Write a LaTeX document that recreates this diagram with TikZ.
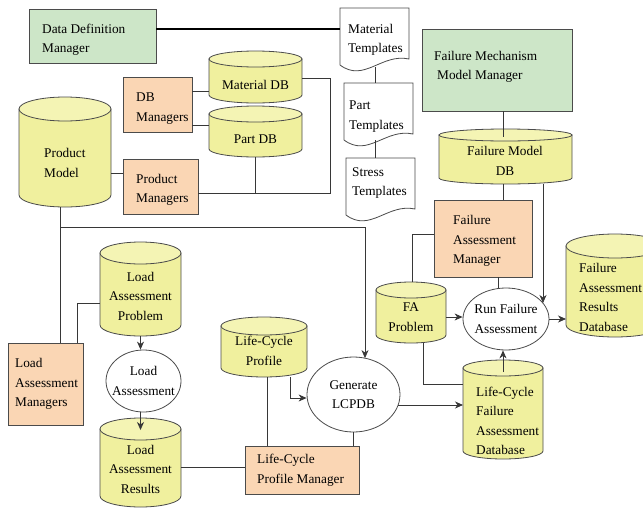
\documentclass[tikz,border=0pt]{standalone}
\usepackage{fontspec}
\setmainfont{Liberation Serif}
\usetikzlibrary{arrows.meta,shapes.geometric,calc}
\definecolor{gfill}{RGB}{205,230,200}
\definecolor{ofill}{RGB}{250,214,180}
\definecolor{yfill}{RGB}{240,240,158}
\definecolor{ytop}{RGB}{244,244,180}
\definecolor{edge}{RGB}{75,75,75}
\definecolor{lnc}{RGB}{55,55,55}
\newcommand\fs{\fontsize{13.3}{19.5}\selectfont}
\tikzset{
  ghost/.style={draw=none, inner sep=0pt, outer sep=0pt, rectangle},
  gbox/.style={draw=edge, fill=gfill, inner sep=0pt, outer sep=0pt, anchor=north west, line width=0.8pt},
  obox/.style={draw=edge, fill=ofill, inner sep=0pt, outer sep=0pt, anchor=north west, line width=0.8pt},
  txt/.style={font=\fs, inner sep=0pt, align=left, anchor=west},
  ctxt/.style={font=\fs, inner sep=0pt, align=center},
  cyl/.style={draw=edge, fill=yfill, line width=0.8pt},
  cyltop/.style={draw=edge, fill=ytop, line width=0.8pt},
  docshape/.style={draw=edge, fill=white, line width=0.8pt},
  ell/.style={ellipse, draw=edge, fill=white, line width=0.8pt, inner sep=0pt},
  ln/.style={draw=lnc, line width=0.8pt},
  arr/.style={ln, -{Stealth[length=8pt,width=7pt,inset=2.5pt]}},
}
% cylinder: name, x0, y0, x1, y1, ry
\newcommand\Cyl[6]{%
  \pgfmathsetmacro\cyCX{(#2+#4)/2}%
  \pgfmathsetmacro\cyRX{(#4-#2)/2}%
  \pgfmathsetmacro\cyKX{0.5523*\cyRX}%
  \pgfmathsetmacro\cyKY{0.5523*#6}%
  \pgfmathsetmacro\cyTA{#3+#6}%
  \pgfmathsetmacro\cyBA{#5-#6}%
  \pgfmathsetmacro\cyBB{\cyBA+\cyKY}%
  \draw[cyl] (#2,\cyTA) -- (#2,\cyBA) .. controls (#2,\cyBB) and (\cyCX-\cyKX,#5) .. (\cyCX,#5) .. controls (\cyCX+\cyKX,#5) and (#4,\cyBB) .. (#4,\cyBA) -- (#4,\cyTA) -- cycle;
  \draw[cyltop] (\cyCX,\cyTA) ellipse [x radius=\cyRX, y radius=#6];
  \path (\cyCX,{(#3+#5)/2}) node[ghost, minimum width={(#4-#2)*1pt}, minimum height={(#5-#3)*1pt}] (#1) {};%
}
% document: name, x0, y0, x1, yb
\newcommand\Doc[5]{%
  \pgfmathsetmacro\dcW{#4-#2}%
  \draw[docshape] (#2,#3) -- (#4,#3) -- (#4,#5-6) .. controls (#2+0.6*\dcW,#5-12) and (#2+0.35*\dcW,#5+18) .. (#2,#5) -- cycle;
  \path ({(#2+#4)/2},{(#3+#5)/2}) node[ghost, minimum width={(#4-#2)*1pt}, minimum height={(#5-#3)*1pt}] (#1) {};%
}
\begin{document}
\begin{tikzpicture}[x=1pt,y=-1pt]
\clip (0,0) rectangle (643,509);
\fill[white] (0,0) rectangle (643,509);

% boxes
\node[gbox, minimum width=127pt, minimum height=54pt] (ddm) at (29,9) {};
\node[txt] (ddmT) at (42,40) {Data Definition\\Manager};
\node[obox, minimum width=69pt, minimum height=55pt] (dbm) at (123,77) {};
\node[txt] (dbmT) at (136,108.5) {DB\\Managers};
\node[obox, minimum width=75pt, minimum height=55pt] (pm) at (123,159) {};
\node[txt] (pmT) at (136,190) {Product\\Managers};
\node[obox, minimum width=75pt, minimum height=82pt] (lam) at (8,343) {};
\node[txt] (lamT) at (15,384) {Load\\Assessment\\Managers};
\node[obox, minimum width=114pt, minimum height=48pt] (lcpm) at (245,446) {};
\node[txt] (lcpmT) at (257,470) {Life-Cycle\\Profile Manager};
\node[obox, minimum width=98pt, minimum height=77pt] (fam) at (434,200) {};
\node[txt] (famT) at (453,241) {Failure\\Assessment\\Manager};
\node[gbox, minimum width=150pt, minimum height=82pt] (fmmm) at (422,29) {};
\node[txt] (fmmmT) at (434,67) {Failure Mechanism\\\hspace{3pt}Model Manager};

% cylinders
\Cyl{matdb}{209}{51}{302}{103}{8}
\node[ctxt] (matdbT) at (255.5,85) {Material DB};
\Cyl{partdb}{209}{106}{302}{157}{8}
\node[ctxt] (partdbT) at (255.5,139) {Part DB};
\Cyl{prod}{19}{97}{111}{207}{12}
\node[txt] (prodT) at (44,163) {Product\\Model};
\Cyl{lap}{100}{242}{181}{336}{11}
\node[ctxt] (lapT) at (140.5,296) {Load\\Assessment\\Problem};
\Cyl{lar}{100}{418}{181}{507}{11}
\node[ctxt] (larT) at (140.5,469) {Load\\Assessment\\Results};
\Cyl{lcp}{221}{317}{307}{377}{9}
\node[ctxt] (lcpT) at (264,351) {Life-Cycle\\Profile};
\Cyl{fmdb}{439}{129}{572}{184}{6}
\node[ctxt] (fmdbT) at (505,161) {Failure Model\\DB};
\Cyl{fap}{376}{282}{446}{343}{8}
\node[ctxt] (fapT) at (411,317) {FA\\Problem};
\Cyl{lcfad}{463}{360}{543}{459}{8}
\node[txt] (lcfadT) at (476,421) {Life-Cycle\\Failure\\Assessment\\Database};
\Cyl{fard}{566}{234}{664}{337}{12}
\node[txt] (fardT) at (579,297.5) {Failure\\Assessment\\Results\\Database};

% ellipses
\node[ell, minimum width=75pt, minimum height=62pt] (la) at (143.5,381) {};
\node[ctxt] (laT) at (143.5,381) {Load\\Assessment};
\node[ell, minimum width=93pt, minimum height=75pt] (gen) at (353.5,394.5) {};
\node[ctxt] (genT) at (353.5,394.5) {Generate\\LCPDB};
\node[ell, minimum width=86pt, minimum height=62pt] (rfa) at (506,319) {};
\node[ctxt] (rfaT) at (506,319) {Run Failure\\Assessment};

% documents
\Doc{mt}{340}{8}{409}{65}
\node[txt] (mtT) at (348,40) {Material\\Templates};
\Doc{pt}{344}{83}{413}{140}
\node[txt] (ptT) at (349,116.5) {Part\\Templates};
\Doc{st}{346}{158}{415}{215}
\node[txt] (stT) at (352,183) {Stress\\Templates};

% connectors
\draw[ln, draw=black, line width=1.4pt] (ddm.east |- 0,29) -- (mt.west |- 0,29);
\draw[ln] (dbm.east |- 0,91) -- (matdb.west |- 0,91);
\draw[ln] (dbm.east |- 0,125) -- (partdb.west |- 0,125);
\draw[ln] (matdb.east |- 0,78) -| (330,193) -- (pm.east |- 0,193);
\draw[ln] (partdb.south) -- (partdb.south |- 0,193);
\draw[ln] (prod.east |- 0,173) -- (pm.west |- 0,173);
\draw[ln] (prod.south -| 60,0) coordinate (pb) -- (pb |- lam.north);
\coordinate (j1) at (60,227);
\draw[arr] (j1) -| ($(gen.north)+(11.5,1.5)$);
\draw[ln] (lam.north -| 77,0) |- (lap.west |- 0,303);
\draw[arr] (lap.south) -- (lap.south |- la.north);
\draw[arr] (la.south -| lar.north) -- ($(lar.north)+(0,12)$);
\draw[ln] (lar.east |- 0,467) -- (lcpm.west |- 0,467);
\draw[ln] (lcp.south -| 267,0) -- (267,0 |- lcpm.north);
\draw[arr] (lcp.south -| 290,0) |- (gen.west |- 0,398);
\draw[ln] (gen.south) -- (gen.south |- lcpm.north);
\draw[arr] ($(gen.east |- 0,405)+(-2,0)$) -- (lcfad.west |- 0,405);
\draw[arr] ($(lcfad.north)+(0,12)$) -- (lcfad.north |- rfa.south);
\draw[arr] (fap.east |- 0,317) -- (rfa.west |- 0,317);
\draw[ln] (fap.north -| 412,0) |- (fam.west |- 0,234);
\draw[ln] (fap.south -| 423,0) |- (lcfad.west |- 0,384);
\draw[ln] (fam.south -| 498,0) -- (498,0 |- rfa.north);
\draw[arr] (fmdb.south -| 543,0) -- (543,303);
\draw[arr] (rfa.east) -- (rfa.east -| fard.west);
\draw[ln] (fmmm.south -| 503,0) -- (503,137);
\draw[ln] (fmdb.south -| 503,0) -- (503,0 |- fam.north);
\draw[ln] (375,67) -- (375,0 |- pt.north);
\draw[ln] (375,140) -- (375,0 |- st.north);
\end{tikzpicture}
\end{document}
